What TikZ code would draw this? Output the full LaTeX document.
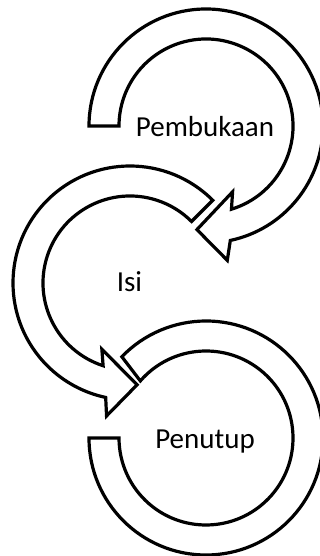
\documentclass[tikz,border=0pt]{standalone}
\usepackage{fontspec}
\setmainfont{Carlito}
\begin{document}
\begin{tikzpicture}[x=1pt,y=1pt,
  band/.style={draw=black, line width=3.2pt, fill=white, line join=miter},
  lbl/.style={font=\fontsize{29}{34}\selectfont, anchor=base, inner sep=0pt}]
\useasboundingbox (0,0) rectangle (320,556);
% top arrow (Pembukaan)
\begin{scope}[shift={(206,430)}]
\draw[band] (180:117) arc[start angle=180,end angle=-78,radius=117]
  -- (-81:136) -- (-95:104) -- (-68:71) -- (-73:87)
  arc[start angle=-73,end angle=180,radius=87] -- cycle;
\end{scope}
% middle arrow (Isi)
\begin{scope}[shift={(130,273)}]
\draw[band] (45:117) arc[start angle=45,end angle=258,radius=117]
  -- (260:135) -- (274:102) -- (247:72) -- (252:87)
  arc[start angle=252,end angle=45,radius=87] -- cycle;
\end{scope}
% bottom band (Penutup)
\begin{scope}[shift={(206,118)}]
\draw[band] (180:117) arc[start angle=180,end angle=496,radius=117]
  -- (499:87) arc[start angle=499,end angle=180,radius=87] -- cycle;
\end{scope}
\node[lbl] (pembukaan) at (205,419) {Pembukaan};
\node[lbl] (isi) at (129.5,264) {Isi};
\node[lbl] (penutup) at (205,107) {Penutup};
\end{tikzpicture}
\end{document}
